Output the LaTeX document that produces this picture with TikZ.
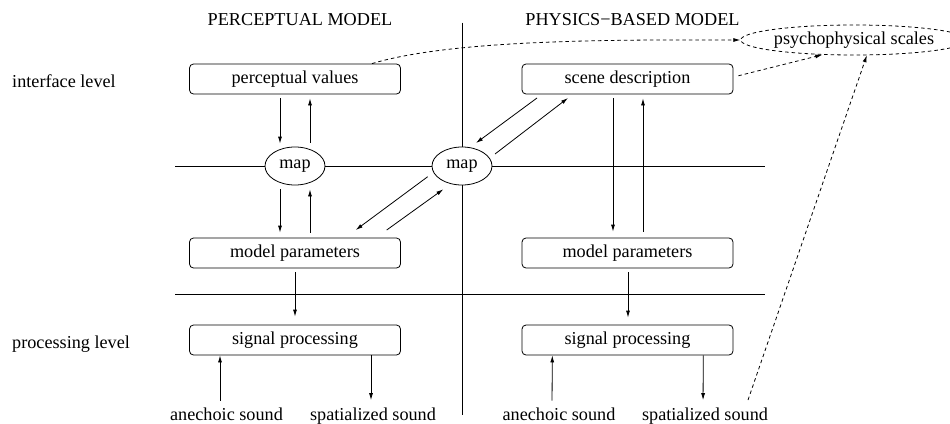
\documentclass[tikz,border=0pt]{standalone}
\usepackage{fontspec}
\setmainfont{Liberation Serif}
\usetikzlibrary{arrows.meta,shapes.geometric}
\begin{document}
\begin{tikzpicture}[x=1pt,y=-1pt,
  every node/.style={font=\fontsize{18.2}{22}\selectfont, inner sep=0pt},
  block/.style={draw, rounded corners=4pt, minimum width=211pt, minimum height=30pt, line width=0.8pt},
  mapnode/.style={draw, ellipse, fill=white, minimum width=60pt, minimum height=38pt, line width=0.8pt},
  scalenode/.style={draw, ellipse, minimum width=204pt, minimum height=30pt, line width=0.8pt, dash pattern=on 3.5pt off 3pt},
  rule/.style={line width=0.8pt},
  arr/.style={line width=0.8pt, -{Latex[length=7pt,width=4pt]}},
  darr/.style={arr, dash pattern=on 3.5pt off 3pt},
]
\useasboundingbox (0,0) rectangle (950,423);

% dividing rules
\coordinate (hl1) at (175,166); \coordinate (hr1) at (765,166);
\coordinate (hl2) at (175,294); \coordinate (hr2) at (765,294);
\coordinate (vt) at (462,22.5); \coordinate (vb) at (462,415);
\draw[rule] (hl1) -- (hr1);
\draw[rule] (hl2) -- (hr2);
\draw[rule] (vt) -- (vb);

% column titles and level labels
\node[anchor=base] (tperc) at (300,25) {PERCEPTUAL MODEL};
\node[anchor=base] (tphys) at (632.5,25) {PHYSICS−BASED MODEL};
\node[anchor=base west] (linter) at (12,87) {interface level};
\node[anchor=base west] (lproc) at (12,348) {processing level};

% perceptual model
\node[block] (pv)  at (295,79)  {perceptual values};
\node[mapnode] (map1) at (295,166) {map};
\node[block] (mp1) at (295,253) {model parameters};
\node[block] (sp1) at (295,340) {signal processing};
\node[anchor=base] (an1) at (226.5,420) {anechoic sound};
\node[anchor=base] (sz1) at (373,420) {spatialized sound};

% physics-based model
\node[block] (sd)  at (627.5,79)  {scene description};
\node[mapnode] (map2) at (462,166) {map};
\node[block] (mp2) at (627.5,253) {model parameters};
\node[block] (sp2) at (627.5,340) {signal processing};
\node[anchor=base] (an2) at (559,420) {anechoic sound};
\node[anchor=base] (sz2) at (705,420) {spatialized sound};

\node[scalenode] (psy) at (854,40) {psychophysical scales};
\coordinate (tap) at (748,400);

% perceptual model connectors
\draw[arr, shorten <=4pt, shorten >=3pt] ([xshift=-15pt]pv.south) -- ([xshift=-15pt]map1.north);
\draw[arr, shorten <=4pt, shorten >=4pt] ([xshift=15pt]map1.north) -- ([xshift=15pt]pv.south);
\draw[arr, shorten <=4pt, shorten >=5pt] ([xshift=-15pt]map1.south) -- ([xshift=-15pt]mp1.north);
\draw[arr, shorten <=5pt, shorten >=4pt] ([xshift=15pt]mp1.north) -- ([xshift=15pt]map1.south);
\draw[arr, shorten <=4pt, shorten >=8pt] (mp1.south) -- (sp1.north);
\draw[arr, shorten <=6.5pt] ([xshift=-6.5pt]an1.north) -- ([xshift=-75pt]sp1.south);
\draw[arr, shorten >=7pt] ([xshift=76pt]sp1.south) -- ([xshift=-2pt]sz1.north);

% links through the shared map
\draw[arr] ([shift={(-34.3,10.7)}]map2.center) -- ([shift={(60.7,-23)}]mp1.center);
\draw[arr] ([shift={(91.7,-23)}]mp1.center) -- ([shift={(-18.7,23.3)}]map2.center);
\draw[arr] ([shift={(-90.5,19)}]sd.center) -- ([shift={(14,-23)}]map2.center);
\draw[arr] ([shift={(33,-12)}]map2.center) -- ([shift={(-59.5,19)}]sd.center);

% physics-based model connectors
\draw[arr, shorten <=4pt, shorten >=6pt] ([xshift=-14.5pt]sd.south) -- ([xshift=-14.5pt]mp2.north);
\draw[arr, shorten <=6pt, shorten >=4pt] ([xshift=15.5pt]mp2.north) -- ([xshift=15.5pt]sd.south);
\draw[arr, shorten <=4pt, shorten >=7pt] ([xshift=0.5pt]mp2.south) -- ([xshift=0.5pt]sp2.north);
\draw[arr, shorten <=6.5pt] ([xshift=-7pt]an2.north) -- ([xshift=-75.2pt]sp2.south);
\draw[arr, shorten >=7pt] ([xshift=75.8pt]sp2.south) -- ([xshift=-2pt]sz2.north);

% links to the psychophysical scales
\draw[darr] ([xshift=77pt]pv.north) .. controls ([shift={(157,-24)}]pv.north) and ([shift={(-130,-0.4)}]psy.west) .. (psy.west);
\draw[darr, shorten <=1pt] ([shift={(4pt,3pt)}]sd.east) -- (psy.205);
\draw[darr] (tap) -- (psy.310);
\end{tikzpicture}
\end{document}
